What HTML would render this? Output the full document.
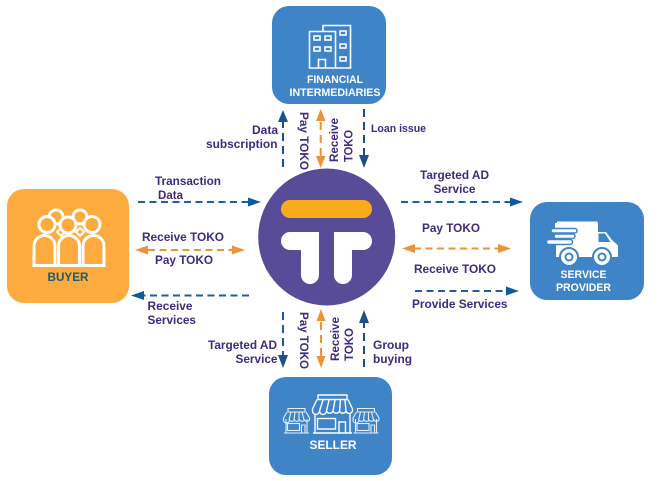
<!DOCTYPE html>
<html><head><meta charset="utf-8"><style>
html,body{margin:0;padding:0;background:#fff}
svg{display:block}
text{font-family:"Liberation Sans",sans-serif;font-weight:bold}
.t{fill:#3f2a80;font-size:12px}
.w{fill:#fff;font-size:11px}
.i{fill:none;stroke:#fff;stroke-width:1.6}
.d{fill:none;stroke-width:2;stroke-dasharray:7 4.500}
.v{fill:none;stroke-width:2;stroke-dasharray:8 5}
</style></head><body>
<svg width="658" height="481" viewBox="0 0 658 481" xmlns="http://www.w3.org/2000/svg">
<rect width="658" height="481" fill="#fff"/>
<!-- boxes -->
<rect x="272" y="6" width="114" height="98" rx="17" fill="#3e84c6"/>
<rect x="7" y="189" width="122" height="114" rx="17" fill="#fdab3f"/>
<rect x="530" y="202" width="114" height="98" rx="17" fill="#3e84c6"/>
<rect x="269" y="377" width="123" height="98" rx="17" fill="#3e84c6"/>
<!-- central -->
<circle cx="326.700" cy="237" r="68.500" fill="#584c99"/>
<rect x="281" y="200" width="91" height="18" rx="9" fill="#f9ac1a"/>
<path d="M290 232H319V275a9 9 0 0 1-18 0V250H290a9 9 0 0 1 0-18Z" fill="#fff"/>
<path d="M363 232H334V275a9 9 0 0 0 18 0V250H363a9 9 0 0 0 0-18Z" fill="#fff"/>
<!-- building -->
<g class="i">
<path d="M323 31V25.500H350.500V68H309.500V31.500H335.500V68"/>
<rect x="314" y="36" width="6" height="4"/><rect x="325" y="36" width="6" height="4"/>
<rect x="314" y="47" width="6" height="4"/><rect x="325" y="47" width="6" height="4"/>
<path d="M318.500 68V59.500H325.500V68"/>
<rect x="340" y="31" width="6" height="4"/><rect x="340" y="44" width="6" height="4"/><rect x="340" y="57" width="6" height="4"/>
</g>
<!-- people -->
<g fill="none" stroke="#fff" stroke-width="3">
<circle cx="56" cy="217" r="7"/><circle cx="80" cy="217" r="7"/>
<path d="M57 232l4-4 4 4-4 4Z" stroke-width="2"/><path d="M76 232l4-4 4 4-4 4Z" stroke-width="2"/>
<circle cx="47" cy="224.500" r="8" fill="#fdab3f"/><circle cx="68" cy="225" r="8" fill="#fdab3f"/><circle cx="92" cy="224.500" r="8" fill="#fdab3f"/>
<path d="M34 265V246a10.500 10.500 0 0 1 21 0V265"/>
<path d="M58.500 265V246a10.500 10.500 0 0 1 21 0V265"/>
<path d="M83 265V246a10.500 10.500 0 0 1 21 0V265"/>
<path d="M32.500 265.500H105.500"/>
</g>
<!-- truck -->
<g>
<path d="M557 221.500H596a2 2 0 0 1 2 2V232H606L612 240 617 244.500Q618 245 618 247V257H556V245H570V228H557Z" fill="#fff"/>
<path d="M555 223V232H570V223Z" fill="#fff"/>
<path d="M598.500 233.500H605L610.500 242H598.500Z" fill="#3e84c6"/>
<rect x="551" y="228.500" width="26" height="4.500" rx="2.200" fill="#fff" stroke="#3e84c6" stroke-width="1.500"/>
<rect x="554" y="234" width="21" height="4.500" rx="2.200" fill="#fff" stroke="#3e84c6" stroke-width="1.500"/>
<rect x="546.500" y="239.500" width="26" height="5" rx="2.500" fill="#fff" stroke="#3e84c6" stroke-width="1.500"/>
<circle cx="569" cy="257" r="9" fill="#fff" stroke="#3e84c6" stroke-width="2"/><circle cx="569" cy="257" r="4.500" fill="#3e84c6"/><circle cx="569" cy="257" r="2.500" fill="#fff"/>
<circle cx="602" cy="257" r="9" fill="#fff" stroke="#3e84c6" stroke-width="2"/><circle cx="602" cy="257" r="4.500" fill="#3e84c6"/><circle cx="602" cy="257" r="2.500" fill="#fff"/>
</g>
<!-- shops -->
<g fill="none" stroke="#fff" stroke-width="1.400">
<path d="M313 433H352M315 414V433M350 414V433"/>
<path d="M318 395H347V399.500H318Z"/>
<path d="M317 399.500L312.500 409V411a3.400 3.400 0 0 0 7 0 3.500 3.500 0 0 0 7 0 3.500 3.500 0 0 0 6.500 0 3.500 3.500 0 0 0 6.500 0 3.500 3.500 0 0 0 6.500 0 3.400 3.400 0 0 0 6.500 0V409L348 399.500"/>
<path d="M323 400L319.500 411M329 400L326.500 411M335 400L333 411M340.500 400L339.500 411M345 400L346 411"/>
<rect x="317.500" y="418.500" width="18" height="10.500"/><path d="M339 433V422H345.500V433"/>
</g>
<g id="s" fill="none" stroke="#e4eef8" stroke-width="1.100">
<path d="M284 433H309M286 419V433M307 419V433"/>
<path d="M288 408.500H305V412H288Z"/>
<path d="M287 412L283.500 418V420a3 3 0 0 0 6 0 3 3 0 0 0 5 0 3 3 0 0 0 5 0 3 3 0 0 0 5 0 3 3 0 0 0 5 0V418L306 412"/>
<path d="M291 412L289 420M295 412L294 420M299 412V420M302 412L304 420"/>
<rect x="287.500" y="423.500" width="12" height="7"/><path d="M301.500 433V425H305V433"/>
</g>
<use href="#s" transform="translate(69.500 0)"/>
<!-- box labels -->
<text class="w" x="307" y="83" textLength="56" lengthAdjust="spacingAndGlyphs">FINANCIAL</text>
<text class="w" x="289.500" y="96" textLength="91" lengthAdjust="spacingAndGlyphs">INTERMEDIARIES</text>
<text x="47.500" y="281" fill="#1f5a6e" textLength="41" lengthAdjust="spacingAndGlyphs" style="font-size:11.500px">BUYER</text>
<text class="w" x="560.500" y="278" textLength="46" lengthAdjust="spacingAndGlyphs">SERVICE</text>
<text class="w" x="556" y="291" textLength="55" lengthAdjust="spacingAndGlyphs">PROVIDER</text>
<text class="w" x="309.500" y="449" textLength="47" lengthAdjust="spacingAndGlyphs" style="font-size:12px">SELLER</text>
<!-- top connectors -->
<path class="v" d="M283 167V120" stroke="#1f4e8c"/><path d="M278 122L283 110 288 122Z" fill="#1f4e8c"/>
<path class="v" d="M320.700 122V157" stroke="#e8953a"/><path d="M316 121L320.700 109 325.500 121ZM316 156L320.700 168 325.500 156Z" fill="#e8953a"/>
<path class="v" d="M364 109V156" stroke="#1f4e8c"/><path d="M359 155H369L364 168Z" fill="#1f4e8c"/>
<!-- bottom connectors -->
<path class="v" d="M283 312V358" stroke="#1f5a96"/><path d="M278 355H288L283 368Z" fill="#1f4e8c"/>
<path class="v" d="M321 322V357" stroke="#e8953a"/><path d="M316.500 321L321 309 325.500 321ZM316.500 356L321 368 325.500 356Z" fill="#e8953a"/>
<path class="v" d="M364 367V320" stroke="#1f4e8c"/><path d="M359 323L364 310 369 323Z" fill="#1f4e8c"/>
<!-- left connectors -->
<path class="d" d="M138 202H250" stroke="#1f5f9f"/><path d="M248 197.500L261 202 248 206.500Z" fill="#0f5a9c"/>
<path class="d" d="M148 250H234" stroke="#e8953a"/><path d="M148 245.500L135 250 148 254.500ZM232 245.500L245 250 232 254.500Z" fill="#e8953a"/>
<path class="d" d="M249 295.500H142" stroke="#1f5f9f"/><path d="M144 291L131 295.500 144 300Z" fill="#0f5a9c"/>
<!-- right connectors -->
<path class="d" d="M401 202H512" stroke="#1f5f9f"/><path d="M510 197.500L523 202 510 206.500Z" fill="#0f5a9c"/>
<path class="d" d="M414 248.500H500" stroke="#e8953a"/><path d="M415 244L402 248.500 415 253ZM498 244L511 248.500 498 253Z" fill="#e8953a"/>
<path class="d" d="M415 291H508" stroke="#1f5f9f"/><path d="M506 286.500L519 291 506 295.500Z" fill="#0f5a9c"/>
<!-- labels top -->
<text class="t" x="252" y="134" textLength="26" lengthAdjust="spacingAndGlyphs">Data</text>
<text class="t" x="206" y="148" textLength="71.500" lengthAdjust="spacingAndGlyphs">subscription</text>
<text class="t" x="371" y="132" textLength="55" lengthAdjust="spacingAndGlyphs" style="font-size:11px">Loan issue</text>
<text class="t" transform="translate(300 112) rotate(90)" textLength="58" lengthAdjust="spacingAndGlyphs">Pay TOKO</text>
<text class="t" transform="translate(338 162) rotate(-90)" textLength="44" lengthAdjust="spacingAndGlyphs">Receive</text>
<text class="t" transform="translate(352.500 162) rotate(-90)" textLength="32" lengthAdjust="spacingAndGlyphs">TOKO</text>
<!-- labels bottom -->
<text class="t" x="208" y="349" textLength="69" lengthAdjust="spacingAndGlyphs">Targeted AD</text>
<text class="t" x="235.500" y="363" textLength="42" lengthAdjust="spacingAndGlyphs">Service</text>
<text class="t" x="373" y="349" textLength="36" lengthAdjust="spacingAndGlyphs">Group</text>
<text class="t" x="373" y="363" textLength="39" lengthAdjust="spacingAndGlyphs">buying</text>
<text class="t" transform="translate(300 312) rotate(90)" textLength="57" lengthAdjust="spacingAndGlyphs">Pay TOKO</text>
<text class="t" transform="translate(339 361) rotate(-90)" textLength="44" lengthAdjust="spacingAndGlyphs">Receive</text>
<text class="t" transform="translate(353 361) rotate(-90)" textLength="33" lengthAdjust="spacingAndGlyphs">TOKO</text>
<!-- labels left -->
<text class="t" x="155" y="185" textLength="66" lengthAdjust="spacingAndGlyphs">Transaction</text>
<text class="t" x="158" y="199" textLength="25" lengthAdjust="spacingAndGlyphs">Data</text>
<text class="t" x="142" y="241" textLength="82" lengthAdjust="spacingAndGlyphs">Receive TOKO</text>
<text class="t" x="155" y="264" textLength="58" lengthAdjust="spacingAndGlyphs">Pay TOKO</text>
<text class="t" x="147.500" y="310" textLength="45" lengthAdjust="spacingAndGlyphs">Receive</text>
<text class="t" x="147.500" y="324" textLength="48.500" lengthAdjust="spacingAndGlyphs">Services</text>
<!-- labels right -->
<text class="t" x="420" y="179" textLength="69" lengthAdjust="spacingAndGlyphs">Targeted AD</text>
<text class="t" x="433.500" y="193" textLength="42" lengthAdjust="spacingAndGlyphs">Service</text>
<text class="t" x="422" y="232" textLength="58" lengthAdjust="spacingAndGlyphs">Pay TOKO</text>
<text class="t" x="414" y="273" textLength="82" lengthAdjust="spacingAndGlyphs">Receive TOKO</text>
<text class="t" x="412" y="308" textLength="95.500" lengthAdjust="spacingAndGlyphs">Provide Services</text>
</svg>
</body></html>
